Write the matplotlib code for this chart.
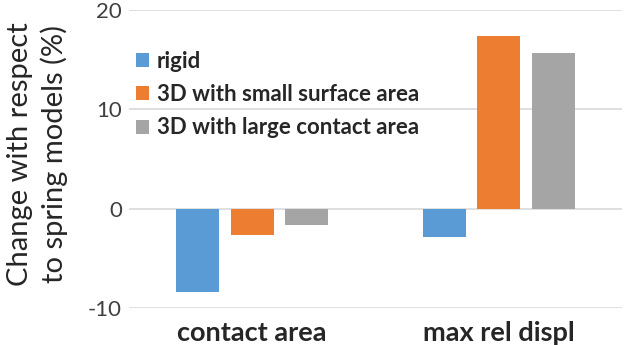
import matplotlib
matplotlib.use("Agg")
import matplotlib.pyplot as plt
import numpy as np
from matplotlib.patches import Patch

categories = ["contact area", "max rel displ"]
series_names = ["rigid", "3D with small surface area", "3D with large contact area"]
rigid = [-8.4, -2.8]
small_surface = [-2.6, 17.35]
large_contact = [-1.65, 15.7]
colors = ["#5B9BD5", "#ED7D31", "#A5A5A5"]
yticks = [-10, 0, 10, 20]

plt.rcParams['font.family'] = ['Lato', 'DejaVu Sans']

fig = plt.figure(figsize=(6.44, 3.45), dpi=100)
ax = fig.add_axes([0.2003, 0.107, 0.7655, 0.864])

x = np.arange(len(categories))
offset = 0.221
width = 0.174
for i, (vals, c) in enumerate(zip([rigid, small_surface, large_contact], colors)):
    ax.bar(x + (i - 1) * offset, vals, width=width, color=c, zorder=3, label=series_names[i])

ax.set_xlim(-0.5, 1.5)
ax.set_ylim(-10, 20)
ax.set_yticks(yticks)
ax.set_yticklabels([str(t) for t in yticks], fontsize=16, color="#404040")
ax.set_xticks(x)
ax.set_xticklabels(categories, fontsize=19.5, fontweight="bold", color="#262626")
ax.tick_params(axis='both', length=0)
ax.tick_params(axis='y', pad=5)
ax.tick_params(axis='x', pad=9)
ax.yaxis.grid(True, color="#D9D9D9", linewidth=1.2, zorder=0)
for s in ax.spines.values():
    s.set_visible(False)

ax.set_ylabel("Change with respect\nto spring models (%)", fontsize=21, color="#262626",
              linespacing=1.3)
ax.yaxis.set_label_coords(-0.124, 0.517)

handles = [Patch(facecolor=c, edgecolor='none') for c in colors]
leg = ax.legend(handles, series_names, loc='upper left', bbox_to_anchor=(0.0, 0.885), frameon=False,
                prop={'weight': 'bold', 'size': 16}, handlelength=0.6, handleheight=0.6,
                handletextpad=0.35, labelspacing=0.55, borderpad=0.1, borderaxespad=0.2)
for t in leg.get_texts():
    t.set_color("#262626")

fig.savefig("out.png", dpi=100)
